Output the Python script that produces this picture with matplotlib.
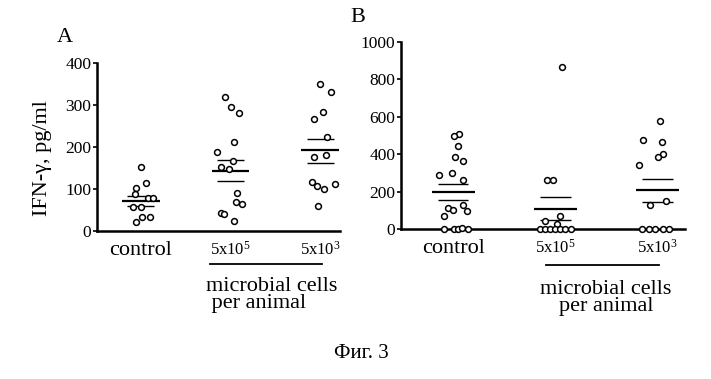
import matplotlib
matplotlib.use('Agg')
import matplotlib.pyplot as plt

plt.rcParams['font.family'] = ['Liberation Serif', 'DejaVu Serif']
plt.rcParams['mathtext.fontset'] = 'custom'
plt.rcParams['mathtext.rm'] = 'Liberation Serif'
plt.rcParams['mathtext.it'] = 'Liberation Serif:italic'

groups = ['control', '5x10$^5$', '5x10$^3$']

# panel A - IFN-gamma, pg/ml
a_control = [152, 114, 102, 88, 78, 78, 58, 58, 34, 33, 22]
a_5e5 = [318, 295, 282, 213, 189, 167, 153, 147, 91, 70, 64, 42, 40, 25]
a_5e3 = [350, 330, 284, 267, 225, 181, 177, 116, 108, 99, 111, 60]
# horizontal scatter of the dots inside each group
a_control_dx = [0.0, 0.06, -0.05, -0.07, 0.08, 0.13, -0.09, 0.0, 0.01, 0.10, -0.05]
a_5e5_dx = [-0.06, 0.0, 0.09, 0.04, -0.15, 0.03, -0.11, -0.02, 0.07, 0.06, 0.13, -0.11, -0.07, 0.04]
a_5e3_dx = [0.0, 0.12, 0.03, -0.07, 0.07, 0.06, -0.07, -0.09, -0.04, 0.04, 0.16, -0.03]
a_mean = [72, 144, 192]
a_upper = [83, 169, 220]
a_lower = [60, 119, 163]

# panel B
b_control = [510, 496, 442, 385, 364, 300, 287, 264, 127, 112, 103, 94, 71, 0, 0, 0, 5, 0]
b_5e5 = [866, 262, 262, 70, 45, 25, 0, 0, 0, 0, 0, 0, 0]
b_5e3 = [579, 478, 465, 403, 385, 340, 151, 127, 0, 0, 0, 0, 0]
b_control_dx = [0.06, 0.01, 0.05, 0.02, 0.10, -0.01, -0.14, 0.10, 0.10, -0.05, 0.0, 0.14, -0.09,
                -0.09, 0.01, 0.05, 0.09, 0.15]
b_5e5_dx = [0.07, -0.08, -0.02, 0.05, -0.10, 0.02, -0.15, -0.10, -0.05, 0.0, 0.05, 0.10, 0.15]
b_5e3_dx = [0.03, -0.14, 0.04, 0.05, 0.01, -0.18, 0.08, -0.07, -0.15, -0.08, -0.02, 0.05, 0.11]
b_mean = [198, 109, 207]
b_upper = [241, 171, 267]
b_lower = [157, 46, 146]


def draw_panel(ax, vals, dxs, mean, upper, lower, ymax, ystep, xlim):
    for i, (v, dx) in enumerate(zip(vals, dxs)):
        ax.plot([i + d for d in dx], v, 'o', ms=4.2, mfc='white', mec='black',
                mew=1.1, clip_on=False, zorder=3)
    ax.hlines(mean, [i - 0.21 for i in range(3)], [i + 0.21 for i in range(3)],
              color='black', lw=1.6, zorder=2)
    ax.hlines(upper, [i - 0.15 for i in range(3)], [i + 0.15 for i in range(3)],
              color='black', lw=1.0, zorder=2)
    ax.hlines(lower, [i - 0.15 for i in range(3)], [i + 0.15 for i in range(3)],
              color='black', lw=1.0, zorder=2)
    ax.set_xlim(*xlim)
    ax.set_ylim(0, ymax)
    ax.set_yticks(range(0, ymax + 1, ystep))
    for s in ['top', 'right']:
        ax.spines[s].set_visible(False)
    for s in ['left', 'bottom']:
        ax.spines[s].set_linewidth(1.8)
    ax.tick_params(axis='y', direction='out', length=3, width=1.2, pad=1, labelsize=12.5)
    ax.set_xticks(range(3))
    ax.set_xticklabels(groups)
    ax.tick_params(axis='x', length=0, pad=7)
    labels = ax.get_xticklabels()
    labels[0].set_fontsize(16)
    labels[1].set_fontsize(12)
    labels[2].set_fontsize(12)


fig = plt.figure(figsize=(7.11, 3.79), dpi=100)
W, H = 711, 379

axA = fig.add_axes([97 / W, 1 - 231 / H, (340 - 97) / W, (231 - 63) / H])
draw_panel(axA, [a_control, a_5e5, a_5e3], [a_control_dx, a_5e5_dx, a_5e3_dx],
           a_mean, a_upper, a_lower, 400, 100, (-0.49, 2.22))

axB = fig.add_axes([401 / W, 1 - 229 / H, (685 - 401) / W, (229 - 42) / H])
draw_panel(axB, [b_control, b_5e5, b_5e3], [b_control_dx, b_5e5_dx, b_5e3_dx],
           b_mean, b_upper, b_lower, 1000, 200, (-0.51, 2.27))

fig.text(42 / W, 1 - 158 / H, 'IFN-γ, pg/ml', rotation=90, ha='center', va='center', fontsize=16)
fig.text(65 / W, 1 - 38 / H, 'A', ha='center', va='center', fontsize=16)
fig.text(358 / W, 1 - 18 / H, 'B', ha='center', va='center', fontsize=16)

# bracket under the two doses
fig.add_artist(plt.Line2D([210 / W, 322 / W], [1 - 264 / H] * 2, color='black', lw=1.3))
fig.add_artist(plt.Line2D([546 / W, 659 / W], [1 - 265 / H] * 2, color='black', lw=1.3))
fig.text(206 / W, 1 - 295 / H, 'microbial cells\n per animal', ha='left', va='center',
         multialignment='left', linespacing=0.8, fontsize=16)
fig.text(606 / W, 1 - 298 / H, 'microbial cells\nper animal', ha='center', va='center',
         multialignment='center', linespacing=0.8, fontsize=16)

fig.text(361 / W, 1 - 354 / H, 'Фиг. 3', ha='center', va='center', fontsize=15)

fig.savefig('out.png', dpi=100)
